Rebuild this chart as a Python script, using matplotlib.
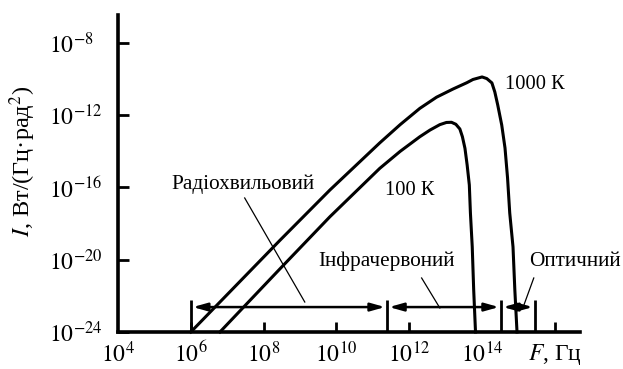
import numpy as np
import matplotlib
matplotlib.use('Agg')
import matplotlib.pyplot as plt
from matplotlib.ticker import NullLocator

plt.rcParams['font.family'] = ['Liberation Serif', 'DejaVu Serif']
plt.rcParams['mathtext.fontset'] = 'stix'

# ---- data (log10 of F in Hz, log10 of I) ----
f_1000_exp = [6.0, 8.45, 9.82, 11.19, 11.75, 12.29, 12.75, 13.20, 13.58, 13.75, 14.0, 14.13,
              14.27, 14.35, 14.43, 14.54, 14.63, 14.70, 14.76, 14.85, 14.90, 14.96]
i_1000_exp = [-24.0, -18.92, -16.14, -13.53, -12.52, -11.62, -11.00, -10.55, -10.20, -10.02, -9.88, -9.97,
              -10.21, -10.71, -11.43, -12.54, -13.81, -15.47, -17.41, -19.29, -21.67, -24.0]

f_100_exp = [6.80, 8.45, 9.82, 11.19, 11.75, 12.29, 12.57, 12.84, 13.02, 13.16, 13.28,
             13.39, 13.46, 13.53, 13.59, 13.65, 13.68, 13.73, 13.77, 13.82]
i_100_exp = [-24.0, -20.50, -17.62, -14.94, -14.00, -13.19, -12.82, -12.52, -12.40, -12.39, -12.50,
             -12.76, -13.19, -13.83, -14.75, -15.86, -17.41, -19.28, -21.67, -24.0]

curve_labels = ['1000 К', '100 К']
band_edges_exp = [6.0, 11.39, 14.52, 15.45]
band_names = ['Радіохвильовий', 'Інфрачервоний', 'Оптичний']

xtick_exp = [4, 6, 8, 10, 12, 14, 16]
xtick_labels = [r'$10^{4}$', r'$10^{6}$', r'$10^{8}$', r'$10^{10}$', r'$10^{12}$',
                r'$10^{14}$', r'$F$, Гц']
ytick_exp = [-24, -20, -16, -12, -8]
ytick_labels = [r'$10^{-24}$', r'$10^{-20}$', r'$10^{-16}$', r'$10^{-12}$', r'$10^{-8}$']
ylabel_text = r'$I$, Вт/(Гц·рад$^2$)'

# ---- figure ----
W, H = 623, 369
fig = plt.figure(figsize=(W / 100, H / 100), dpi=100)
ax = fig.add_axes([118 / W, 37 / H, 462 / W, 317 / H])
ax.set_xscale('log')
ax.set_yscale('log')
ax.set_xlim(1e4, 10 ** 16.69)
ax.set_ylim(1e-24, 10 ** -6.45)

for s in ['top', 'right']:
    ax.spines[s].set_visible(False)
for s in ['left', 'bottom']:
    ax.spines[s].set_linewidth(2.6)

lw_curve = 2.2
ax.plot(10.0 ** np.array(f_1000_exp), 10.0 ** np.array(i_1000_exp), color='k', lw=lw_curve,
        solid_joinstyle='round', clip_on=False)
ax.plot(10.0 ** np.array(f_100_exp), 10.0 ** np.array(i_100_exp), color='k', lw=lw_curve,
        solid_joinstyle='round', clip_on=False)

ax.text(10 ** 15.45, 10 ** -10.32, curve_labels[0], fontsize=14.8, ha='center', va='center')
ax.text(10 ** 12.02, 10 ** -16.14, curve_labels[1], fontsize=14.8, ha='center', va='center')

# band bars and arrows
bar_top = 10 ** -22.23
arrow_y = 10 ** -22.62
ax.vlines([10.0 ** e for e in band_edges_exp], 1e-24, bar_top, colors='k', lw=2.0)
for a, b in zip(band_edges_exp[:-1], band_edges_exp[1:]):
    ax.annotate('', xy=(10 ** b, arrow_y), xytext=(10 ** a, arrow_y),
                arrowprops=dict(arrowstyle='<|-|>,head_length=0.85,head_width=0.24',
                                lw=1.8, color='k', shrinkA=1.5, shrinkB=1.5,
                                mutation_scale=10))

# band labels with leader lines
label_pos = [(7.43, -15.81), (11.38, -20.07), (16.55, -20.12)]
leaders = [((7.48, -16.58), (9.13, -22.34)),
           ((12.34, -21.01), (12.84, -22.67)),
           ((15.42, -21.01), (15.12, -22.67))]
for name, (tx, ty), ((x1, y1), (x2, y2)) in zip(band_names, label_pos, leaders):
    ax.text(10 ** tx, 10 ** ty, name, fontsize=15.3, ha='center', va='center')
    ax.plot([10 ** x1, 10 ** x2], [10 ** y1, 10 ** y2], color='k', lw=0.9)

# ticks
ax.xaxis.set_minor_locator(NullLocator())
ax.yaxis.set_minor_locator(NullLocator())
ax.set_xticks([10.0 ** e for e in xtick_exp])
ax.set_xticklabels(xtick_labels)
ax.set_yticks([10.0 ** e for e in ytick_exp])
ax.set_yticklabels(ytick_labels)
ax.tick_params(axis='x', direction='in', length=7, width=2.0, pad=7, labelsize=17)
ax.tick_params(axis='y', direction='in', length=8, width=2.0, pad=49.5, labelsize=17)
for lab in ax.get_yticklabels():
    lab.set_horizontalalignment('left')
ax.xaxis.get_major_ticks()[5].tick1line.set_visible(False)
ax.xaxis.get_major_ticks()[0].tick1line.set_visible(False)

fig.text(23 / W, 1 - 161 / H, ylabel_text, rotation=90, ha='center', va='center', fontsize=17.5)

fig.savefig('out.png', dpi=100, facecolor='white')
